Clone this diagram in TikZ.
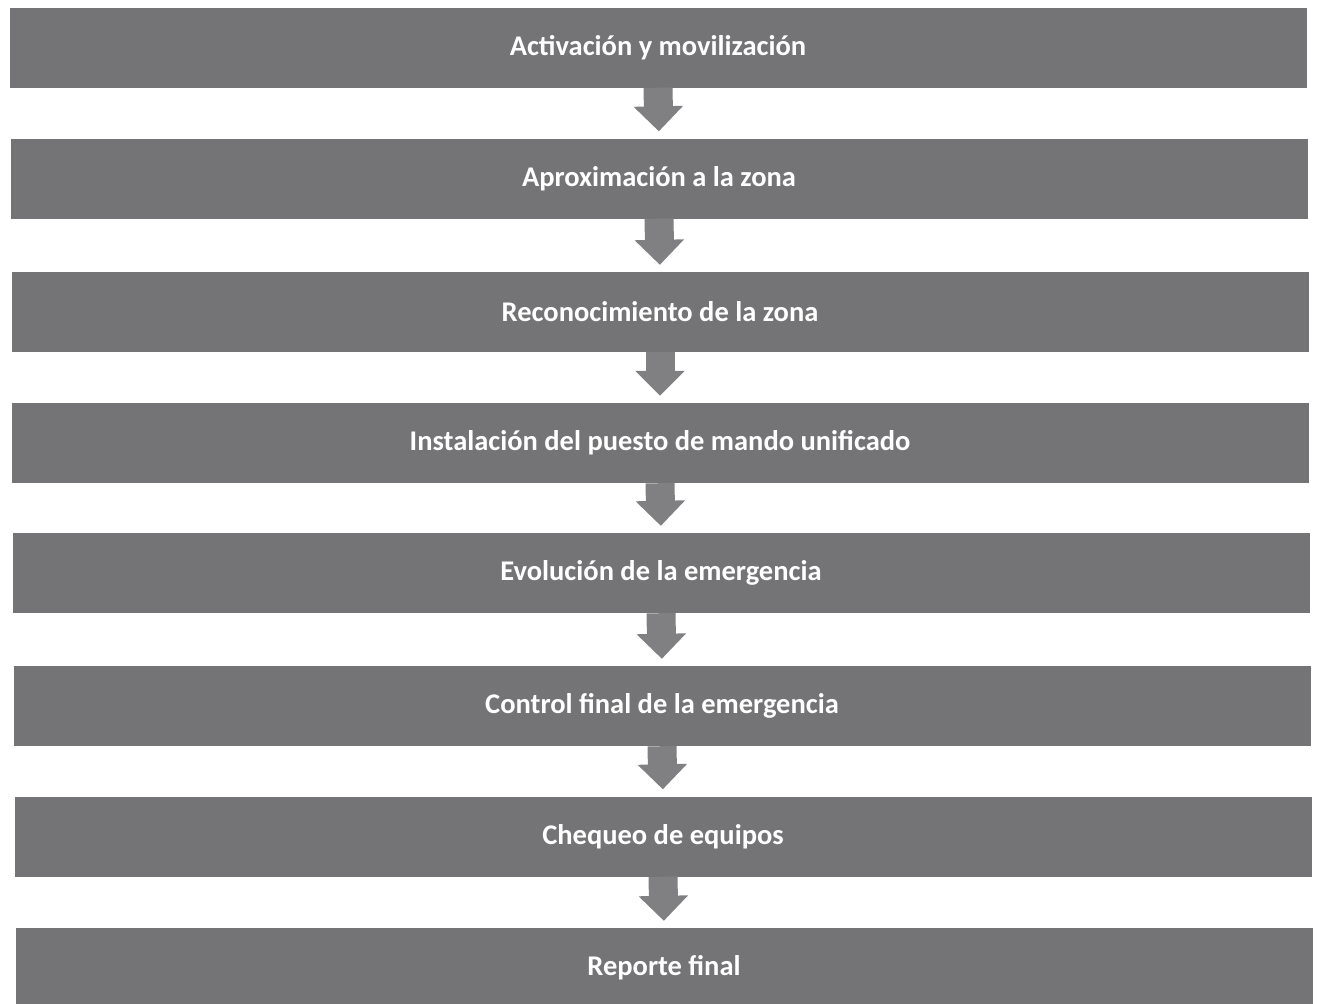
\documentclass[tikz,border=0pt]{standalone}
\usepackage{fontspec}
\setmainfont{Carlito}
\usetikzlibrary{arrows.meta}
\definecolor{bargray}{RGB}{116,116,118}
\definecolor{arrowgray}{RGB}{128,128,130}
\tikzset{
  stepbar/.style={rectangle, fill=bargray, minimum width=1297pt, minimum height=80pt,
    inner sep=0pt, text=white, font=\bfseries\fontsize{28.5}{33}\selectfont},
  flowarrow/.style={draw=arrowgray, line width=29pt,
    -{Triangle[width=48pt,length=25pt,fill=arrowgray]}, shorten >=7pt}
}
\begin{document}
\begin{tikzpicture}[x=1pt,y=-1pt]
\clip (0,0) rectangle (1318,1004);
\fill[white] (0,0) rectangle (1318,1004);
\node[stepbar] (s1) at (658,47.5) {Activación y movilización};
\node[stepbar] (s2) at (659,178.5) {Aproximación a la zona};
\node[stepbar] (s3) at (660,312) {Reconocimiento de la zona};
\node[stepbar] (s4) at (660,443) {Instalación del puesto de mando unificado};
\node[stepbar] (s5) at (661,573) {Evolución de la emergencia};
\node[stepbar] (s6) at (662,706) {Control final de la emergencia};
\node[stepbar] (s7) at (663,836.5) {Chequeo de equipos};
\node[stepbar] (s8) at (664,968) {Reporte final};
\foreach \a/\b in {s1/s2,s2/s3,s3/s4,s4/s5,s5/s6,s6/s7,s7/s8}{
  \draw[flowarrow] (\a.south) -- (\b.north);
}
\end{tikzpicture}
\end{document}
